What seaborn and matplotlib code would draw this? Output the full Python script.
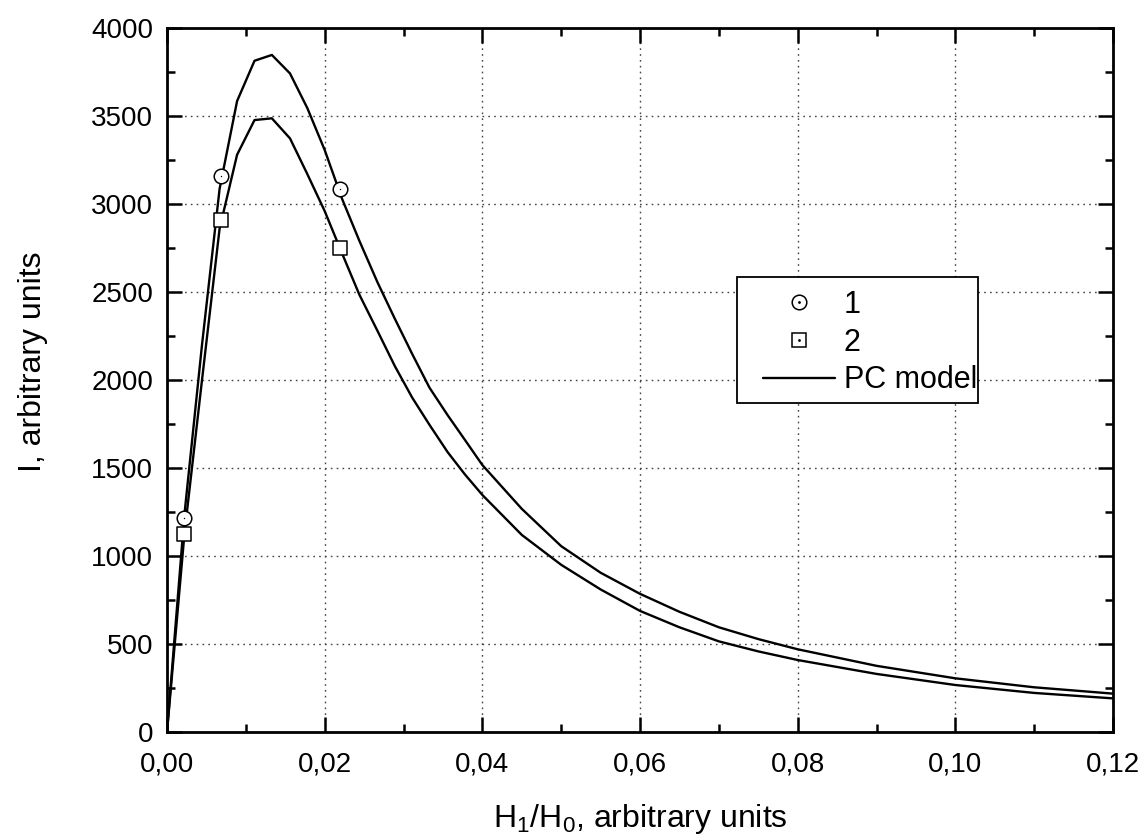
import numpy as np
import pandas as pd
import matplotlib
matplotlib.use('Agg')
import matplotlib.pyplot as plt
import seaborn as sns
from matplotlib.lines import Line2D
from matplotlib.patches import Rectangle
from matplotlib.legend_handler import HandlerTuple
from matplotlib.ticker import MultipleLocator

# PC model curves
x_model = [0, 0.00222, 0.00444, 0.00667, 0.00889, 0.0111, 0.0133, 0.0156, 0.0178,
           0.02, 0.0222, 0.0244, 0.0267, 0.0289, 0.0311, 0.0333, 0.0356, 0.0378,
           0.04, 0.045, 0.05, 0.055, 0.06, 0.065, 0.07, 0.075, 0.08, 0.09, 0.10, 0.11, 0.12]
i_model_1 = [0, 1240, 2200, 3086, 3585, 3814, 3847, 3742, 3545,
             3307, 3030, 2791, 2555, 2348, 2148, 1956, 1800, 1659,
             1517, 1268, 1056, 905, 785, 683, 595, 528, 470, 376, 305, 254, 218]
i_model_2 = [0, 1130, 2000, 2860, 3280, 3477, 3487, 3373, 3170,
             2960, 2720, 2485, 2279, 2079, 1900, 1745, 1590, 1463,
             1347, 1120, 950, 810, 688, 595, 515, 458, 409, 330, 267, 222, 191]

# measured points
x_meas = [0.0022, 0.0069, 0.022]
i_meas_1 = [1215, 3160, 3085]
i_meas_2 = [1125, 2910, 2750]

xticks = [0, 0.02, 0.04, 0.06, 0.08, 0.10, 0.12]
xtick_labels = ['0,00', '0,02', '0,04', '0,06', '0,08', '0,10', '0,12']
yticks = [0, 500, 1000, 1500, 2000, 2500, 3000, 3500, 4000]

sns.set_theme(style='ticks', rc={'text.color': 'black', 'axes.labelcolor': 'black',
                                 'xtick.color': 'black', 'ytick.color': 'black',
                                 'axes.edgecolor': 'black'})
plt.rcParams['font.family'] = ['Liberation Sans', 'DejaVu Sans']
plt.rcParams['mathtext.fontset'] = 'custom'
plt.rcParams['mathtext.rm'] = 'Liberation Sans'
plt.rcParams['mathtext.it'] = 'Liberation Sans'

fig = plt.figure(figsize=(11.47, 8.34), dpi=100)
ax = fig.add_axes([0.1456, 0.1223, 0.8248, 0.8441])

df = pd.DataFrame({'x': x_model, 'c1': i_model_1, 'c2': i_model_2})
sns.lineplot(data=df, x='x', y='c1', color='black', lw=1.7, estimator=None, sort=False, ax=ax)
sns.lineplot(data=df, x='x', y='c2', color='black', lw=1.7, estimator=None, sort=False, ax=ax)

sns.scatterplot(x=x_meas, y=i_meas_1, marker='o', s=110, color='white', edgecolor='black',
                linewidth=1.1, zorder=4, ax=ax)
sns.scatterplot(x=x_meas, y=i_meas_1, marker='.', s=4, color='black', linewidth=0, zorder=5, ax=ax)
sns.scatterplot(x=x_meas, y=i_meas_2, marker='s', s=90, color='white', edgecolor='black',
                linewidth=1.1, zorder=4, ax=ax)

ax.set_xlim(0, 0.12)
ax.set_ylim(0, 4000)
ax.set_xticks(xticks)
ax.set_xticklabels(xtick_labels)
ax.set_yticks(yticks)
ax.xaxis.set_minor_locator(MultipleLocator(0.01))
ax.yaxis.set_minor_locator(MultipleLocator(250))
ax.tick_params(which='both', direction='in', top=True, right=True, width=1.8)
ax.tick_params(which='major', length=11, labelsize=20)
ax.tick_params(which='minor', length=6)
ax.tick_params(axis='x', which='major', pad=14)
ax.tick_params(axis='y', which='major', pad=10)
for s in ax.spines.values():
    s.set_linewidth(2.0)
ax.grid(True, which='major', color='#444444', linestyle=(0, (1.2, 3)), linewidth=1.0)
ax.set_axisbelow(True)

ax.set_xlabel(r'H$_1$/H$_0$, arbitrary units', fontsize=23)
ax.set_ylabel('I, arbitrary units', fontsize=23)
ax.xaxis.set_label_coords(0.5, -0.099)
ax.yaxis.set_label_coords(-0.126, 0.526)

# legend: frameless entries plus a separate box
h1 = (Line2D([], [], marker='o', ls='', markersize=10.5, mfc='none', mec='black', mew=1.1),
      Line2D([], [], marker='.', ls='', markersize=2, color='black'))
h2 = (Line2D([], [], marker='s', ls='', markersize=9.5, mfc='none', mec='black', mew=1.1),
      Line2D([], [], marker='.', ls='', markersize=2, color='black'))
h3 = Line2D([], [], color='black', lw=1.7)
ax.legend([h1, h2, h3], ['1', '2', 'PC model'], handler_map={tuple: HandlerTuple(ndivide=1, pad=0)},
          loc='center left', bbox_to_anchor=(0.630, 0.553), fontsize=22, frameon=False,
          handlelength=2.35, handletextpad=0.3, labelspacing=0.25, borderpad=0, borderaxespad=0)
ax.add_patch(Rectangle((0.6025, 0.4673), 0.8573 - 0.6025, 0.6463 - 0.4673, transform=ax.transAxes,
                       fill=True, facecolor='white', edgecolor='black', lw=1.3, zorder=6))
ax.get_legend().set_zorder(7)

fig.savefig('out.png', dpi=100)
